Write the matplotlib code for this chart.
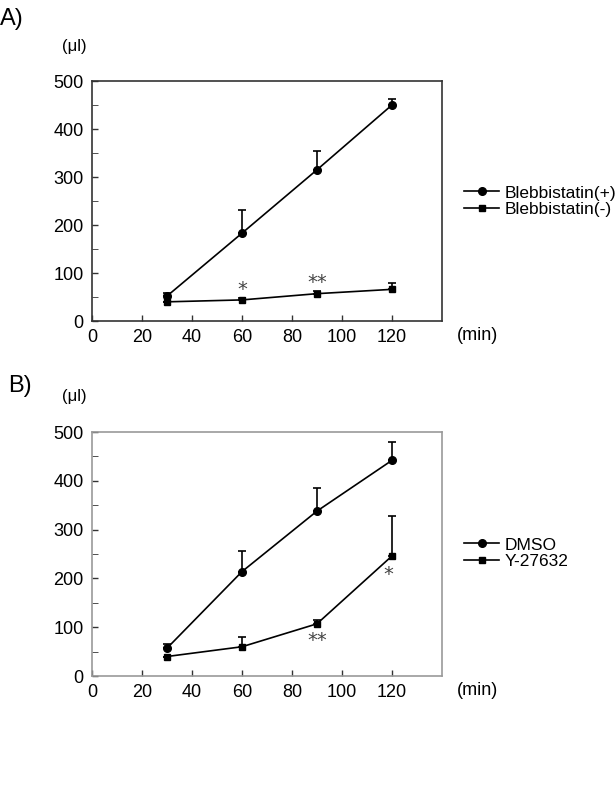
import matplotlib
matplotlib.use("Agg")
import matplotlib.pyplot as plt
import numpy as np

plt.rcParams['font.family'] = ['Liberation Sans', 'DejaVu Sans']

# time points (min)
times = [30, 60, 90, 120]

# panel A
bleb_pos = [52, 183, 315, 450]
bleb_pos_err = [7, 48, 40, 13]
bleb_neg = [40, 44, 57, 66]
bleb_neg_err = [0, 5, 6, 14]

# panel B
dmso = [57, 214, 338, 442]
dmso_err = [9, 42, 47, 38]
y27632 = [40, 60, 107, 246]
y27632_err = [0, 20, 8, 82]

fig = plt.figure(figsize=(6.15, 7.88), dpi=100)

def setup(ax, spine_col):
    ax.set_xlim(0, 140)
    ax.set_ylim(0, 500)
    ax.set_xticks(range(0, 121, 20))
    ax.set_yticks(range(0, 501, 100))
    ax.set_yticks(range(50, 500, 100), minor=True)
    ax.tick_params(direction='in', labelsize=13, length=4, width=1, color='#333333', pad=6)
    ax.tick_params(axis='y', which='minor', direction='in', length=4, color='#333333')
    for s in ax.spines.values():
        s.set_color(spine_col)
        s.set_linewidth(1.2)
    ax.text(146, -12, '(min)', fontsize=13, va='top', ha='left')

def draw(ax, y1, e1, y2, e2, lab1, lab2, legy):
    ax.errorbar(times, y1, yerr=[np.zeros(4), e1], fmt='none', ecolor='black',
                elinewidth=1.2, capsize=3, capthick=1.2)
    ax.errorbar(times, y2, yerr=[np.zeros(4), e2], fmt='none', ecolor='black',
                elinewidth=1.2, capsize=3, capthick=1.2)
    l1, = ax.plot(times, y1, '-o', color='black', ms=5.5, lw=1.2, label=lab1)
    l2, = ax.plot(times, y2, '-s', color='black', ms=4.5, lw=1.2, label=lab2)
    ax.legend(handles=[l1, l2], loc='center left', bbox_to_anchor=(0.741, legy),
              bbox_transform=fig.transFigure, frameon=False, fontsize=12.5,
              handlelength=2.0, handletextpad=0.3, labelspacing=0.05, borderpad=0)

def star(ax, x, y, s):
    ax.text(x, y, s, fontsize=14, ha='center', va='center', color='#444444',
            family='DejaVu Sans')

axA = fig.add_axes([0.1496, 0.5926, 0.569, 0.3046])
setup(axA, '#333333')
draw(axA, bleb_pos, bleb_pos_err, bleb_neg, bleb_neg_err,
     'Blebbistatin(+)', 'Blebbistatin(-)', 1 - 201 / 788)
star(axA, 60, 66, '*')
star(axA, 90, 80, '**')

axB = fig.add_axes([0.1496, 0.1421, 0.569, 0.3096])
setup(axB, '#999999')
draw(axB, dmso, dmso_err, y27632, y27632_err, 'DMSO', 'Y-27632', 1 - 553 / 788)
star(axB, 90, 73, '**')
star(axB, 118.5, 208, '*')

fig.text(0.0, 1 - 19 / 788, 'A)', fontsize=17, va='center', ha='left')
fig.text(0.013, 1 - 386 / 788, 'B)', fontsize=17, va='center', ha='left')
fig.text(0.101, 1 - 47 / 788, '(μl)', fontsize=12, va='center', ha='left')
fig.text(0.101, 1 - 397 / 788, '(μl)', fontsize=12, va='center', ha='left')

fig.savefig('out.png', dpi=100, facecolor='white')
